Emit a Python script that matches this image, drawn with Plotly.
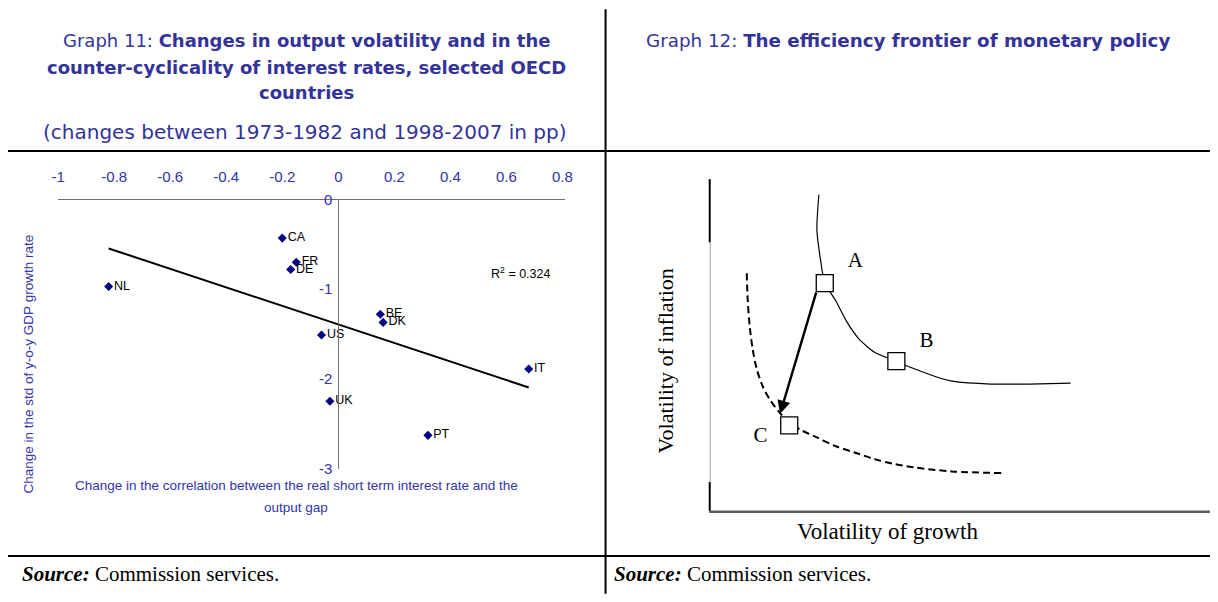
import numpy as np
import plotly.graph_objects as go

# page is 1218x602; the browser body keeps an 8px margin, so the figure is 1202x586
OFF = 8
FW, FH = 1202, 586

# ---------------- Graph 11 data ----------------
countries = ["CA", "FR", "DE", "NL", "BE", "DK", "US", "IT", "UK", "PT"]
corr_change = [-0.20, -0.15, -0.17, -0.82, 0.15, 0.16, -0.06, 0.68, -0.03, 0.32]
vol_change = [-0.43, -0.70, -0.78, -0.97, -1.28, -1.37, -1.51, -1.89, -2.25, -2.63]
x_ticks = [-1, -0.8, -0.6, -0.4, -0.2, 0, 0.2, 0.4, 0.6, 0.8]
x_tick_labels = ["-1", "-0.8", "-0.6", "-0.4", "-0.2", "0", "0.2", "0.4", "0.6", "0.8"]
y_ticks = [0, -1, -2, -3]
y_tick_labels = ["0", "-1", "-2", "-3"]
r2_text = "R<sup>2</sup> = 0.324"

# ---------------- Graph 12 schematic data ----------------
frontier_x = [111, 109, 113, 117, 128, 140, 152, 167, 190, 207, 234, 246, 285, 324, 366]
frontier_y = [326, 290, 257, 235, 217, 194, 177, 164, 154, 147, 137, 134, 131, 131, 132]
new_frontier_x = [38, 39, 41, 44, 48, 54, 62, 71, 81, 94, 109, 128,
                  147.9, 167.4, 187, 206.5, 245.6, 296.3]
new_frontier_y = [245, 217, 190, 167, 147, 129, 114, 102, 91, 83, 76, 67,
                  60.3, 53.7, 48.7, 45.3, 41, 39.3]
point_names = ["A", "B", "C"]
point_x = [117, 189.5, 81]
point_y = [235, 154.5, 88.5]
point_label_x = [148, 220, 52]
point_label_y = [257, 175, 77]
arrow_start = (108.8, 227)
arrow_end = (71.7, 100.3)


def px(x):
    return (x - OFF) / FW


def py(y):
    return 1 - (y - OFF) / FH


BLUE = "#3333aa"
TITLE_BLUE = "#333399"
TITLE_FONT = "DejaVu Sans"
NARROW = "Liberation Sans Narrow, Arial Narrow, Liberation Sans, Arial"
SANS = "Liberation Sans, Arial"
SERIF = "Liberation Serif, Times New Roman"

fig = go.Figure()

# Graph 11 scatter
fig.add_trace(go.Scatter(
    x=corr_change, y=vol_change, mode="markers+text", text=countries,
    textposition="middle right",
    textfont=dict(family=SANS, size=12.5, color="black"),
    marker=dict(symbol="diamond", size=7, color="#000080"),
    xaxis="x", yaxis="y", showlegend=False, cliponaxis=False,
))
slope, intercept = np.polyfit(corr_change, vol_change, 1)
tx = [min(corr_change), max(corr_change)]
ty = [slope * v + intercept for v in tx]
fig.add_trace(go.Scatter(
    x=tx, y=ty, mode="lines", line=dict(color="black", width=2),
    xaxis="x", yaxis="y", showlegend=False,
))

# Graph 12 schematic
fig.add_trace(go.Scatter(
    x=frontier_x, y=frontier_y, mode="lines",
    line=dict(color="black", width=1.2, shape="spline", smoothing=0.6),
    xaxis="x2", yaxis="y2", showlegend=False,
))
fig.add_trace(go.Scatter(
    x=new_frontier_x, y=new_frontier_y, mode="lines",
    line=dict(color="black", width=2, dash="7px,4px", shape="spline", smoothing=0.9),
    xaxis="x2", yaxis="y2", showlegend=False,
))
fig.add_trace(go.Scatter(
    x=point_x, y=point_y, mode="markers",
    marker=dict(symbol="square", size=17, color="white", line=dict(color="black", width=1.3)),
    xaxis="x2", yaxis="y2", showlegend=False,
))
fig.add_trace(go.Scatter(
    x=point_label_x, y=point_label_y, mode="text", text=point_names,
    textfont=dict(family=SERIF, size=21, color="black"),
    xaxis="x2", yaxis="y2", showlegend=False,
))

annotations = []
# arrow A -> C
annotations.append(dict(
    x=arrow_end[0], y=arrow_end[1], ax=arrow_start[0], ay=arrow_start[1],
    xref="x2", yref="y2", axref="x2", ayref="y2", text="", showarrow=True,
    arrowhead=2, arrowsize=1.1, arrowwidth=2.4, arrowcolor="black", standoff=0,
))


def ann(text, x, y, size, color="black", family=TITLE_FONT, angle=0, xanchor="center", yanchor="middle"):
    annotations.append(dict(
        text=text, x=px(x), y=py(y), xref="paper", yref="paper", showarrow=False,
        font=dict(family=family, size=size, color=color), textangle=angle,
        xanchor=xanchor, yanchor=yanchor,
    ))


# titles
ann("Graph 11: <b>Changes in output volatility and in the</b>", 303, 32, 18, TITLE_BLUE)
ann("<b>counter-cyclicality of interest rates, selected OECD</b>", 303, 60, 18, TITLE_BLUE)
ann("<b>countries</b>", 303, 86, 18, TITLE_BLUE)
ann("(changes between 1973-1982 and 1998-2007 in pp)", 302, 126, 20, TITLE_BLUE)
ann("Graph 12: <b>The efficiency frontier of monetary policy</b>", 912, 32, 18.3, TITLE_BLUE)

# Graph 11 axis titles and R2
ann("Change in the std of y-o-y GDP growth rate", 22, 365, 13.5, BLUE, family=SANS, angle=-90)
ann("Change in the correlation between the real short term interest rate and the", 293, 491, 13.5, BLUE,
    family=NARROW)
ann("output gap", 293, 513, 13.5, BLUE, family=NARROW)
ann(r2_text, 488, 272, 12.5, "black", family=SANS, xanchor="left")

# Graph 12 axis titles
ann("Volatility of inflation", 667, 362, 22, "black", family=SERIF, angle=-90)
ann("Volatility of growth", 892, 538, 23, "black", family=SERIF)

# sources
ann("<b><i>Source:</i></b> Commission services.", 13, 582, 21, "black", family=SERIF, xanchor="left")
ann("<b><i>Source:</i></b> Commission services.", 613, 582, 21, "black", family=SERIF, xanchor="left")

shapes = []


def hline(y, x0, x1, color="black", width=2):
    shapes.append(dict(type="line", xref="paper", yref="paper", x0=px(x0), x1=px(x1),
                       y0=py(y), y1=py(y), line=dict(color=color, width=width)))


def vline(x, y0, y1, color="black", width=2):
    shapes.append(dict(type="line", xref="paper", yref="paper", x0=px(x), x1=px(x),
                       y0=py(y0), y1=py(y1), line=dict(color=color, width=width)))


# table grid
hline(146, 0, 1218)
hline(563, 0, 1218)
vline(606, 0, 602)

# Graph 12 axes
vline(711.5, 175, 240, "black", 2)
vline(712, 240, 487, "#a0a0a0", 1)
vline(711.5, 487, 517, "black", 2)
hline(517.5, 711, 1218, "#5a5a5a", 2.5)

x2_right = OFF + FW  # right edge of the figure in page pixels

fig.update_layout(
    width=FW, height=FH, margin=dict(l=0, r=0, t=0, b=0),
    paper_bgcolor="white", plot_bgcolor="rgba(0,0,0,0)",
    showlegend=False,
    xaxis=dict(
        domain=[px(51.8), px(565.1)], range=[-1, 0.81], side="top", anchor="y",
        showline=True, linecolor="#707070", linewidth=1, showgrid=False, zeroline=False,
        tickmode="array", tickvals=x_ticks, ticktext=x_tick_labels, ticks="",
        tickfont=dict(family=NARROW, size=15, color=BLUE), ticklabelstandoff=11,
    ),
    yaxis=dict(
        domain=[py(473), py(196)], range=[-3, 0], anchor="free", position=px(335.4),
        showline=True, linecolor="#707070", linewidth=1, showgrid=False, zeroline=False,
        tickmode="array", tickvals=y_ticks, ticktext=y_tick_labels, ticks="",
        tickfont=dict(family=NARROW, size=15, color=BLUE), ticklabelstandoff=3,
    ),
    xaxis2=dict(domain=[px(711), 1], range=[0, x2_right - 711], anchor="y2", visible=False),
    yaxis2=dict(domain=[py(517), py(175)], range=[0, 342], anchor="x2", visible=False),
    annotations=annotations, shapes=shapes,
)

fig.write_html("out.html", config={"displayModeBar": False})
